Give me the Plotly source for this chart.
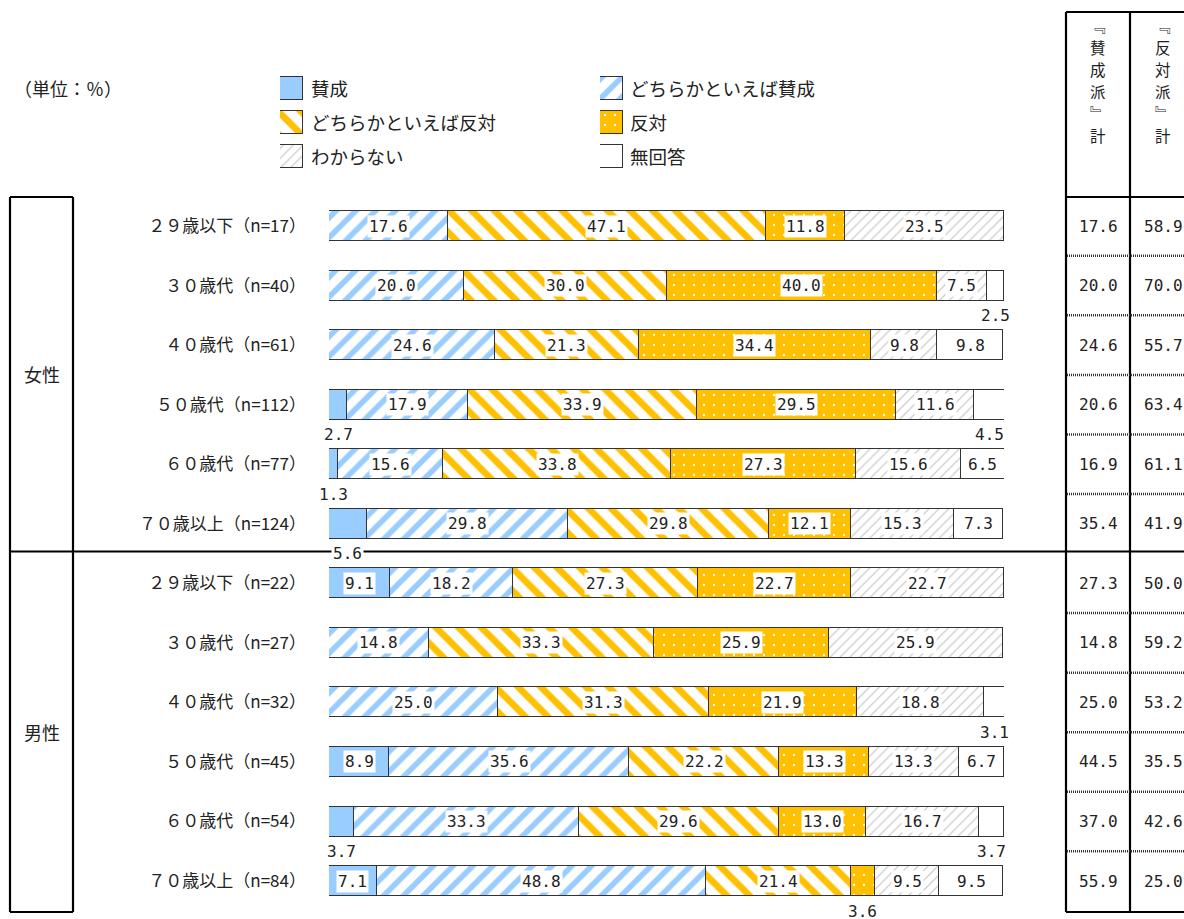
import plotly.graph_objects as go

W, H = 1184, 919

# ---------------- data ----------------
categories = ["２９歳以下（n=17）", "３０歳代（n=40）", "４０歳代（n=61）", "５０歳代（n=112）",
              "６０歳代（n=77）", "７０歳以上（n=124）",
              "２９歳以下（n=22）", "３０歳代（n=27）", "４０歳代（n=32）", "５０歳代（n=45）",
              "６０歳代（n=54）", "７０歳以上（n=84）"]
groups = ["女性", "男性"]
series_names = ["賛成", "どちらかといえば賛成", "どちらかといえば反対", "反対", "わからない", "無回答"]
sansei = [0, 0, 0, 2.7, 1.3, 5.6, 9.1, 0, 0, 8.9, 3.7, 7.1]
dochira_sansei = [17.6, 20.0, 24.6, 17.9, 15.6, 29.8, 18.2, 14.8, 25.0, 35.6, 33.3, 48.8]
dochira_hantai = [47.1, 30.0, 21.3, 33.9, 33.8, 29.8, 27.3, 33.3, 31.3, 22.2, 29.6, 21.4]
hantai = [11.8, 40.0, 34.4, 29.5, 27.3, 12.1, 22.7, 25.9, 21.9, 13.3, 13.0, 3.6]
wakaranai = [23.5, 7.5, 9.8, 11.6, 15.6, 15.3, 22.7, 25.9, 18.8, 13.3, 16.7, 9.5]
mukaito = [0, 2.5, 9.8, 4.5, 6.5, 7.3, 0, 0, 3.1, 6.7, 3.7, 9.5]
sansei_ha_kei = [17.6, 20.0, 24.6, 20.6, 16.9, 35.4, 27.3, 14.8, 25.0, 44.5, 37.0, 55.9]
hantai_ha_kei = [58.9, 70.0, 55.7, 63.4, 61.1, 41.9, 50.0, 59.2, 53.2, 35.5, 42.6, 25.0]
unit_label = "（単位：％）"
table_headers = [["﹃", "賛", "成", "派", "﹄", "計"], ["﹃", "反", "対", "派", "﹄", "計"]]

series = [sansei, dochira_sansei, dochira_hantai, hantai, wakaranai, mukaito]

# ---------------- styling ----------------
BLUE = "#99CCFF"
ORANGE = "#FFC000"
LINE = "#333333"
TXT = "#222222"
JP = "Noto Sans CJK JP"
NUM = "DejaVu Sans Mono"

styles = [
    dict(color=BLUE, pattern=None),
    dict(color="white", pattern=dict(shape="/", fgcolor=BLUE, bgcolor="white", size=14, solidity=0.4, fillmode="replace")),
    dict(color="white", pattern=dict(shape="\\", fgcolor=ORANGE, bgcolor="white", size=16, solidity=0.42, fillmode="replace")),
    dict(color=ORANGE, pattern=dict(shape=".", fgcolor="white", bgcolor=ORANGE, size=10, solidity=0.04, fillmode="replace")),
    dict(color="white", pattern=dict(shape="/", fgcolor="#c2c2c2", bgcolor="white", size=7, solidity=0.15, fillmode="replace")),
    dict(color="white", pattern=None),
]

# pixel layout helpers (figure margins are zero, so paper == pixels)
def px(x):
    return x / W

def py(y):
    return 1 - y / H

ROW0, DY = 226.0, 59.55          # pixel centre of first row, row pitch
BAR_PX = 30.0
X0, X1 = 329.0, 1004.0           # pixel span of 0..100 %

fig = go.Figure()
rows = list(range(len(categories)))

for name, vals, st in zip(series_names, series, styles):
    marker = dict(color=st["color"], line=dict(color=LINE, width=1))
    if st["pattern"]:
        marker["pattern"] = st["pattern"]
    fig.add_trace(go.Bar(y=rows, x=vals, orientation="h", name=name, width=BAR_PX / DY,
                         marker=marker, showlegend=False, hoverinfo="skip"))

# legend swatches (two small subplots)
LEG_ROW0, LEG_DY, SW = 88.0, 34.0, 23.0
for i, (name, st) in enumerate(zip(series_names, styles)):
    col, r = i % 2, i // 2
    marker = dict(color=st["color"], line=dict(color=LINE, width=1))
    if st["pattern"]:
        marker["pattern"] = st["pattern"]
    fig.add_trace(go.Bar(y=[r], x=[1], orientation="h", width=SW / LEG_DY, marker=marker,
                         xaxis="x2" if col == 0 else "x3", yaxis="y2",
                         showlegend=False, hoverinfo="skip"))

annotations = []

def ann(**kw):
    kw.setdefault("showarrow", False)
    kw.setdefault("xanchor", "center")
    kw.setdefault("yanchor", "middle")
    annotations.append(kw)

# value labels
for r in rows:
    cum = 0.0
    for vals in series:
        v = vals[r]
        if v > 0:
            c = cum + v / 2
            ann(x=c, y=r, xref="x", yref="y", text=f"{v:.1f}", yshift=0 if v >= 6 else -30,
                font=dict(family=NUM, size=16, color=TXT), bgcolor="white", borderpad=1)
        cum += v

# right table values
for r in rows:
    ann(x=px(1098), y=r, xref="paper", yref="y", text=f"{sansei_ha_kei[r]:.1f}",
        font=dict(family=NUM, size=16, color=TXT))
    ann(x=px(1163), y=r, xref="paper", yref="y", text=f"{hantai_ha_kei[r]:.1f}",
        font=dict(family=NUM, size=16, color=TXT))

# table headers (vertical writing, one glyph per line)
head_y = [25, 47, 69, 91, 113, 135]
for xc, chars in zip([1098, 1163], table_headers):
    for ch, yy in zip(chars, head_y):
        ann(x=px(xc), y=py(yy), xref="paper", yref="paper", text=ch, borderpad=0,
            font=dict(family=JP, size=15.5, color=TXT))

# group labels
for g, (ya, yb) in zip(groups, [(197, 551), (551, 912)]):
    ann(x=px(42), y=py((ya + yb) / 2), xref="paper", yref="paper", text=g,
        font=dict(family=JP, size=18, color=TXT))

# unit label
ann(x=px(12), y=py(88), xref="paper", yref="paper", text=unit_label, xanchor="left",
    font=dict(family=JP, size=18, color=TXT))

# legend texts
for i, name in enumerate(series_names):
    col, r = i % 2, i // 2
    ann(x=px(309 if col == 0 else 628), y=py(LEG_ROW0 + LEG_DY * r), xref="paper", yref="paper",
        text=name, xanchor="left", font=dict(family=JP, size=18.5, color=TXT))

# frame lines
shapes = []
lw = 2.2
def line(x0, y0, x1, y1, width=lw, dash="solid", color="black"):
    shapes.append(dict(type="line", xref="paper", yref="paper", x0=px(x0), y0=py(y0), x1=px(x1), y1=py(y1),
                       line=dict(color=color, width=width, dash=dash), layer="below"))

# left group box
line(10, 197, 73, 197)
line(10, 197, 10, 912)
line(73, 197, 73, 912)
line(10, 912, 73, 912)
line(10, 551.5, 1184, 551.5)
# right table
line(1066, 12, 1066, 912)
line(1130, 12, 1130, 912)
line(1066, 12, 1184, 12)
line(1066, 197, 1184, 197)
line(1066, 912, 1184, 912)
for r in rows[:-1]:
    if r == 5:
        continue
    yy = ROW0 + DY * (r + 0.5)
    line(1067, yy, 1184, yy, width=2.5, dash="1px,1px", color="#333333")

top_val = -ROW0 / DY
bot_val = (H - ROW0) / DY
leg_top = -LEG_ROW0 / LEG_DY
leg_bot = (H - LEG_ROW0) / LEG_DY

fig.update_layout(
    width=W, height=H, autosize=False,
    margin=dict(l=0, r=0, t=0, b=0, pad=0),
    paper_bgcolor="white", plot_bgcolor="rgba(0,0,0,0)",
    barmode="stack", bargap=0,
    showlegend=False,
    xaxis=dict(domain=[px(X0), px(X1)], range=[0, 100], visible=False, fixedrange=True),
    yaxis=dict(domain=[0, 1], range=[bot_val, top_val], tickvals=rows, ticktext=categories,
               showgrid=False, zeroline=False, showline=False, ticks="", ticklabelstandoff=22,
               tickfont=dict(family=JP, size=17, color=TXT), fixedrange=True),
    xaxis2=dict(domain=[px(280), px(280 + SW)], range=[0, 1], visible=False, anchor="y2"),
    xaxis3=dict(domain=[px(600), px(600 + SW)], range=[0, 1], visible=False, anchor="y2"),
    yaxis2=dict(domain=[0, 1], range=[leg_bot, leg_top], visible=False, anchor="x2"),
    annotations=annotations,
    shapes=shapes,
)

fig.write_html("out.html", config=dict(displayModeBar=False),
               post_script="document.body.style.margin='0';document.body.style.overflow='hidden';")
